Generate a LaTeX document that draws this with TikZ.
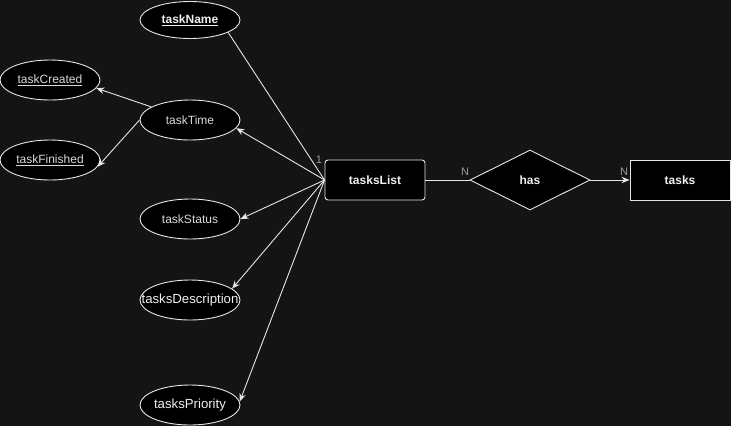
\documentclass[tikz,border=0pt]{standalone}
\usepackage{fontspec}
\setmainfont{Liberation Sans}
\usetikzlibrary{shapes.geometric,arrows.meta}
\definecolor{bgcol}{HTML}{141414}
\definecolor{linecol}{HTML}{E6E6E6}
\definecolor{txtcol}{HTML}{F0F0F0}
\definecolor{dimtxt}{HTML}{DADADA}
\definecolor{cardcol}{HTML}{9A9A9A}
\newcommand{\zw}[1]{\makebox[0pt][c]{#1}}
\tikzset{
  attr/.style={ellipse, draw=linecol, fill=black, line width=0.9pt,
    minimum width=100pt, minimum height=40pt, inner sep=0pt,
    text=dimtxt, font=\fontsize{12pt}{14pt}\selectfont},
  bigattr/.style={attr, text=txtcol, font=\fontsize{13.2pt}{15pt}\selectfont},
  entity/.style={rectangle, draw=linecol, fill=black, line width=0.9pt,
    minimum width=100pt, minimum height=40pt, inner sep=0pt,
    text=txtcol, font=\fontsize{12pt}{14pt}\selectfont\bfseries},
  relation/.style={diamond, draw=linecol, fill=black, line width=0.9pt,
    minimum width=120pt, minimum height=60pt, inner sep=0pt, shape aspect=2,
    text=txtcol, font=\fontsize{12pt}{14pt}\selectfont\bfseries},
  link/.style={draw=linecol, line width=0.9pt},
  arr/.style={link, -{Stealth[length=8pt,width=6.5pt,inset=2.5pt]}},
  card/.style={text=cardcol, font=\fontsize{11pt}{13pt}\selectfont, inner sep=0pt}
}
\begin{document}
\begin{tikzpicture}[x=1pt,y=-1pt]
  \fill[bgcol] (0,0) rectangle (731,426);
  \useasboundingbox (0,0) rectangle (731,426);

  % attributes
  \node[attr, text=txtcol, font=\fontsize{12pt}{14pt}\selectfont\bfseries, minimum height=37pt] (taskName) at (190,20) {\zw{\underline{taskName}}};
  \node[attr] (taskCreated) at (50,80) {\zw{\underline{taskCreated}}};
  \node[attr] (taskTime) at (190,120) {\zw{taskTime}};
  \node[attr] (taskFinished) at (50,160) {\zw{\underline{taskFinished}}};
  \node[attr] (taskStatus) at (190,219) {\zw{taskStatus}};
  \node[bigattr] (tasksDescription) at (190,300) {\zw{tasksDescription}};
  \node[bigattr] (tasksPriority) at (190,405) {\zw{tasksPriority}};

  % entities and relation
  \node[entity, rounded corners=3pt] (tasksList) at (375,180) {tasksList};
  \node[relation] (has) at (530,180) {has};
  \node[entity] (tasks) at (680,180) {tasks};

  % connectors
  \draw[link] (tasksList.west) -- (taskName.-18);
  \draw[arr] (tasksList.west) -- (taskTime.-10);
  \draw[arr] (taskTime) -- (taskCreated.-10);
  \draw[arr] (taskTime.west) -- (taskFinished.-8);
  \draw[arr] (tasksList.west) -- (taskStatus.east);
  \draw[arr] (tasksList.west) -- (tasksDescription.15);
  \draw[arr] (tasksList.west) -- (tasksPriority.4);
  \draw[link] (tasksList.east) -- (has.west);
  \draw[arr] (has.east) -- (tasks.west);

  % cardinalities
  \node[card] (c1) at (319,160) {1};
  \node[card] (cN1) at (465,172) {N};
  \node[card] (cN2) at (624,172) {N};
\end{tikzpicture}
\end{document}
